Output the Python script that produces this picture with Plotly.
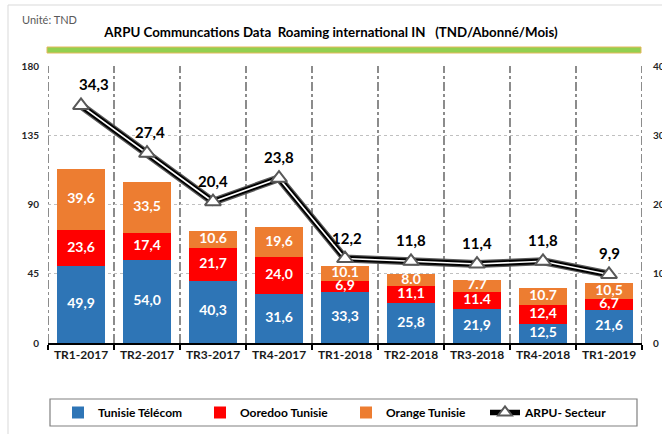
import plotly.graph_objects as go

categories = ["TR1-2017", "TR2-2017", "TR3-2017", "TR4-2017", "TR1-2018",
              "TR2-2018", "TR3-2018", "TR4-2018", "TR1-2019"]
tunisie_telecom = [49.9, 54.0, 40.3, 31.6, 33.3, 25.8, 21.9, 12.5, 21.6]
ooredoo = [23.6, 17.4, 21.7, 24.0, 6.9, 11.1, 11.4, 12.4, 6.7]
orange = [39.6, 33.5, 10.6, 19.6, 10.1, 8.0, 7.7, 10.7, 10.5]
arpu_secteur = [34.3, 27.4, 20.4, 23.8, 12.2, 11.8, 11.4, 11.8, 9.9]

tt_labels = ["49,9", "54,0", "40,3", "31,6", "33,3", "25,8", "21,9", "12,5", "21,6"]
oo_labels = ["23,6", "17,4", "21,7", "24,0", "6,9", "11,1", "11.4", "12,4", "6,7"]
or_labels = ["39,6", "33,5", "10.6", "19,6", "10.1", "8.0", "7.7", "10.7", "10,5"]
arpu_labels = ["34,3", "27,4", "20,4", "23,8", "12,2", "11,8", "11,4", "11,8", "9,9"]

left_ticks = [0, 45, 90, 135, 180]
right_ticks = [0, 10, 20, 30, 40]

FONT = "Lato"
BLUE = "#2E75B6"
RED = "#FF0000"
ORANGE = "#ED7D31"

W, H = 662, 434
ML, MR, MT, MB = 48, 20, 66, 91
PW = W - ML - MR
PH = H - MT - MB


def px_x(p):
    return (p - ML) / PW


def px_y(p):
    return (H - MB - p) / PH


fig = go.Figure()

series = [("Tunisie Télécom", tunisie_telecom, BLUE, tt_labels, "legend"),
          ("Ooredoo Tunisie", ooredoo, RED, oo_labels, "legend2"),
          ("Orange Tunisie", orange, ORANGE, or_labels, "legend3")]

base = [0.0] * len(categories)
for name, vals, col, labs, leg in series:
    fig.add_trace(go.Bar(x=categories, y=vals, name=name, marker_color=col,
                         marker_line_width=0, hoverinfo="skip", legend=leg))
    mids = [b + v / 2 for b, v in zip(base, vals)]
    fig.add_trace(go.Scatter(x=categories, y=mids, mode="text", text=labs,
                             textfont=dict(family=FONT, size=14, color="white", weight="bold"),
                             showlegend=False, hoverinfo="skip"))
    base = [b + v for b, v in zip(base, vals)]

# compound (double) line for ARPU
fig.add_trace(go.Scatter(x=categories, y=arpu_secteur, yaxis="y2", mode="lines",
                         line=dict(color="#5a5a5a", width=8), showlegend=False,
                         hoverinfo="skip"))
fig.add_trace(go.Scatter(x=categories, y=arpu_secteur, yaxis="y2", mode="lines+markers",
                         name="ARPU- Secteur", legend="legend4",
                         line=dict(color="black", width=5.5),
                         marker=dict(symbol="triangle-up", size=12, color="white",
                                     line=dict(color="#595959", width=2)),
                         hoverinfo="skip"))
fig.add_trace(go.Scatter(x=categories, y=arpu_secteur, yaxis="y2", mode="lines",
                         line=dict(color="white", width=1.6), showlegend=False,
                         hoverinfo="skip"))
fig.add_trace(go.Scatter(x=categories, y=arpu_secteur, yaxis="y2", mode="markers",
                         marker=dict(symbol="triangle-up", size=14, color="white",
                                     line=dict(color="#595959", width=2)),
                         showlegend=False, hoverinfo="skip"))

label_xshift = [13, 3, 0, 0, 2, 0, 0, 0, 0]
for cat, val, lab, xs in zip(categories, arpu_secteur, arpu_labels, label_xshift):
    fig.add_annotation(x=cat, y=val, xref="x", yref="y2", text=lab, showarrow=False,
                       xshift=xs, yshift=21,
                       font=dict(family=FONT, size=15, color="black", weight="bold"))

leg_font = dict(family=FONT, size=12, color="black", weight="bold")
leg_y = px_y(412.5)


def leg(xpx):
    return dict(orientation="h", x=px_x(xpx), xanchor="left", y=leg_y, yanchor="middle",
                font=leg_font, bgcolor="rgba(0,0,0,0)", borderwidth=0)


fig.update_layout(
    width=W, height=H,
    margin=dict(l=ML, r=MR, t=MT, b=MB, autoexpand=False),
    paper_bgcolor="white", plot_bgcolor="white",
    barmode="stack", bargap=0.27,
    font=dict(family=FONT, color="black"),
    title=dict(text="ARPU Communcations Data\u00a0\u00a0Roaming international IN\u00a0\u00a0\u00a0(TND/Abonné/Mois)",
               x=0.5, xref="container", xanchor="center",
               y=1 - 32 / H, yref="container", yanchor="middle",
               font=dict(family=FONT, size=13.3, color="black", weight="bold")),
    xaxis=dict(type="category", categoryorder="array", categoryarray=categories,
               range=[-0.5, len(categories) - 0.5],
               tickson="boundaries", showgrid=False,
               showline=True, linecolor="black", linewidth=2,
               ticks="outside", ticklen=5, tickcolor="black", tickwidth=1.5,
               tickfont=dict(family=FONT, size=12, color="#1a1a1a", weight="bold")),
    yaxis=dict(range=[0, 180], tickvals=left_ticks, showgrid=True,
               gridcolor="#c0c0c0", griddash="dot", gridwidth=1,
               zeroline=False, showline=False, ticks="",
               ticklabelstandoff=8,
               tickfont=dict(family=FONT, size=10, color="#262626", weight="bold")),
    yaxis2=dict(range=[0, 40], tickvals=right_ticks, overlaying="y", side="right",
                showgrid=False, zeroline=False, showline=False, ticks="",
                ticklabelstandoff=10,
                tickfont=dict(family=FONT, size=10, color="#262626", weight="bold")),
    legend=leg(58), legend2=leg(200), legend3=leg(346), legend4=leg(485),
    showlegend=True,
)

# vertical dash-dot gridlines at category boundaries
for i in range(len(categories) + 1):
    fig.add_shape(type="line", xref="x", yref="paper", x0=i - 0.5, x1=i - 0.5,
                  y0=0, y1=1, line=dict(color="#404040", width=1.2, dash="dashdot"),
                  layer="below")

# decorative elements
fig.add_shape(type="rect", xref="paper", yref="paper", x0=px_x(8), x1=1.2,
              y0=-0.6, y1=px_y(5), line=dict(color="#d9d9d9", width=1), layer="below")
fig.add_shape(type="rect", xref="paper", yref="paper", x0=px_x(47), x1=px_x(641),
              y0=px_y(53), y1=px_y(47), fillcolor="#92D050",
              line=dict(color="#E6B85C", width=1))
fig.add_shape(type="rect", xref="paper", yref="paper", x0=px_x(50), x1=px_x(637),
              y0=px_y(426), y1=px_y(399), line=dict(color="#808080", width=1.2))
fig.add_annotation(text="Unité: TND", xref="paper", yref="paper",
                   x=px_x(20), y=px_y(19), xanchor="left", yanchor="middle",
                   showarrow=False, font=dict(family=FONT, size=11, color="#595959"))

fig.write_html("out.html", config={"displayModeBar": False},
               post_script="document.body.style.margin='0';document.body.style.overflow='hidden';")
